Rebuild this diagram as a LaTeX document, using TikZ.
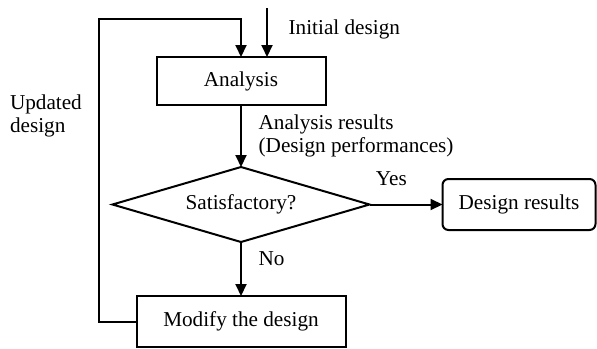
\documentclass[tikz,border=0pt]{standalone}
\usepackage{fontspec}
\setmainfont{Liberation Serif}
\usetikzlibrary{positioning,shapes.geometric,arrows.meta}

\tikzset{
	proc/.style={draw, line width=1pt, rectangle, minimum width=84.5pt, minimum height=24pt, inner sep=0pt, outer sep=0pt},
	decide/.style={draw, line width=1pt, diamond, aspect=3.4, minimum width=128.5pt, minimum height=37.5pt, inner sep=0pt, outer sep=0pt},
	term/.style={draw, line width=1pt, rectangle, rounded corners=3pt, minimum width=76.5pt, minimum height=25.5pt, inner sep=0pt, outer sep=0pt},
	flow/.style={line width=1pt, -{Triangle[length=6pt,width=5.5pt]}},
}

\begin{document}
\begin{tikzpicture}[font=\fontsize{10.6pt}{11.5pt}\selectfont]
		\useasboundingbox (0,0) rectangle (298.5pt,-174pt);

		% Define nodes
		\node[proc] (ana) at (120.5pt,-40.5pt) {Analysis};
		\node[decide, below=31pt of ana] (sat) {Satisfactory?};
		\node[proc, minimum width=104.5pt, minimum height=25.5pt, below=27pt of sat] (mod) {Modify the design};
		\node[term, right=36.5pt of sat] (res) {Design results};

		\coordinate[above=24.5pt of ana.north, xshift=13pt] (init);
		\coordinate[above=19pt of ana.north] (top);
		\coordinate[left=19pt of mod.west] (back);

		% Connect the nodes
		\draw[flow] (init) -- node[right, xshift=7pt, yshift=1.5pt] {Initial design} (init |- ana.north);
		\draw[flow] (ana) -- node[right, align=left, xshift=5pt] {Analysis results\\(Design performances)} (sat);
		\draw[flow] (sat) -- node[above, pos=0.3, yshift=5.5pt] {Yes} (res);
		\draw[flow] (sat) -- node[right, pos=0.31, xshift=5pt] {No} (mod);

		% Feedback loop
		\draw[flow] (mod.west) -- (back) -- node[left, pos=0.68, align=left, xshift=-4.5pt] {Updated\\design} (back |- top) -- (top) -- (ana.north);
	\end{tikzpicture}
\end{document}
